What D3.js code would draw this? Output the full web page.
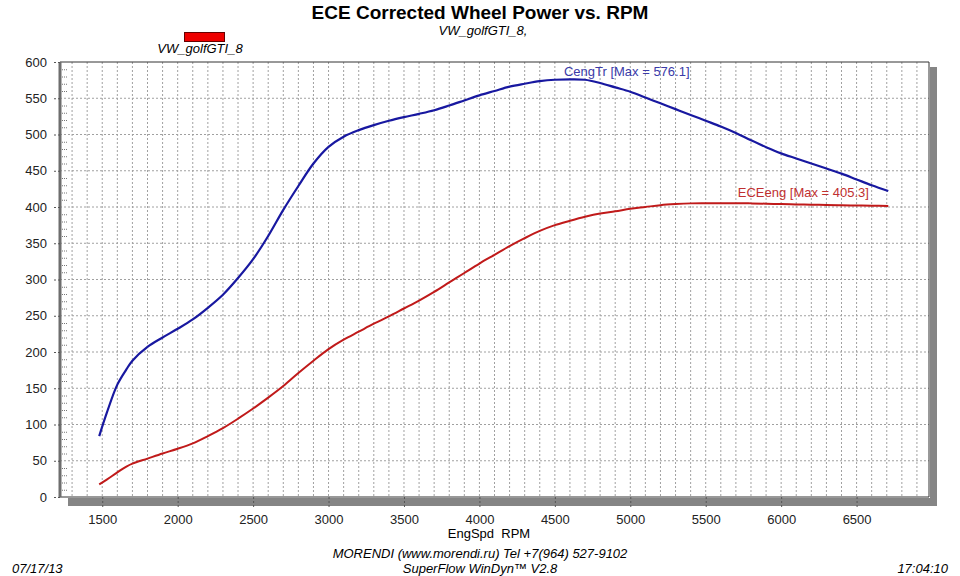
<!DOCTYPE html>
<html>
<head>
<meta charset="utf-8">
<script src="https://cdn.jsdelivr.net/npm/d3@7"></script>
<style>
  body { margin: 0; background: #fff; }
  text { font-family: "Liberation Sans", Arial, sans-serif; }
</style>
</head>
<body>
<div id="graph-area"></div>
<script>
// engine speed samples (rpm), shared by both curves
const RPM = [1480, 1530, 1600, 1660, 1700, 1800, 1900, 2000, 2100, 2200, 2300, 2400, 2500, 2600,
  2700, 2800, 2900, 3000, 3100, 3200, 3300, 3400, 3500, 3600, 3700, 3800, 3900, 4000, 4100,
  4200, 4300, 4400, 4500, 4600, 4700, 4800, 4900, 5000, 5100, 5200, 5300, 5400, 5500, 5600,
  5700, 5800, 5900, 6000, 6100, 6200, 6300, 6400, 6500, 6600, 6710]
const CENG_TR = [84, 116, 155, 176, 188, 207, 220, 232, 245, 261, 279, 302, 328, 360,
  396, 429, 460, 483, 497, 506, 513, 519, 524, 528.5, 533.5, 540, 547, 554, 560,
  566, 570, 573.5, 575.5, 576.1, 575.5, 571, 565, 559, 551, 543, 535, 527, 519, 511,
  502, 492, 482.5, 474, 467, 460, 453, 446, 438, 430, 422]
const ECE_ENG = [17.4, 24, 34, 42, 46, 53, 60, 66.5, 74, 84, 95, 108, 122, 137,
  153, 171, 188, 204, 217, 228, 239, 249, 260, 271, 283, 296, 309, 322, 334,
  346, 357, 367, 375, 381, 386.5, 391, 394, 397.5, 400, 402.5, 404, 405, 405.2, 405.3,
  405.3, 405, 404.6, 404, 403.6, 403.2, 402.8, 402.4, 402, 401.8, 401.5]
const X_TICKS = [1500, 2000, 2500, 3000, 3500, 4000, 4500, 5000, 5500, 6000, 6500]
const Y_TICKS = [0, 50, 100, 150, 200, 250, 300, 350, 400, 450, 500, 550, 600]
const X_DOMAIN = [1220, 6980]
const Y_DOMAIN = [0, 600]

const W = 960, H = 576
const plot = { left: 60, right: 929, top: 62, bottom: 497 }

const svg = d3.select('#graph-area').append('svg')
  .attr('width', W).attr('height', H)

const xScale = d3.scaleLinear().domain(X_DOMAIN).range([plot.left, plot.right])
const yScale = d3.scaleLinear().domain(Y_DOMAIN).range([plot.bottom, plot.top])

// drop shadow of the plot frame
svg.append('rect').attr('x', plot.right + 1).attr('y', plot.top + 5)
  .attr('width', 7).attr('height', plot.bottom - plot.top + 4).attr('fill', '#858585')
svg.append('rect').attr('x', plot.left + 8).attr('y', plot.bottom + 1)
  .attr('width', plot.right - plot.left).attr('height', 8).attr('fill', '#858585')

svg.append('rect').attr('x', plot.left).attr('y', plot.top)
  .attr('width', plot.right - plot.left).attr('height', plot.bottom - plot.top)
  .attr('fill', '#fff')

// grid
const grid = svg.append('g').attr('stroke', '#a0a0a0').attr('stroke-width', 1)
  .attr('stroke-dasharray', '2,2')
grid.selectAll('.vg').data(d3.range(1300, 7000, 100)).enter().append('line')
  .attr('x1', d => xScale(d)).attr('x2', d => xScale(d))
  .attr('y1', plot.top).attr('y2', plot.bottom)
grid.selectAll('.hg').data(Y_TICKS.slice(1, -1)).enter().append('line')
  .attr('x1', plot.left).attr('x2', plot.right)
  .attr('y1', d => yScale(d)).attr('y2', d => yScale(d))

// minor ticks on the y axis every 10
svg.append('g').attr('stroke', '#777').attr('stroke-dasharray', '1,1')
  .selectAll('line').data(d3.range(10, 600, 10).filter(d => d % 50)).enter().append('line')
  .attr('x1', plot.left + 2).attr('x2', plot.left + 8)
  .attr('y1', d => yScale(d) + 0.5).attr('y2', d => yScale(d) + 0.5)

// frame
svg.append('path')
  .attr('d', `M${plot.left},${plot.top}H${plot.right}V${plot.bottom}H${plot.left}`)
  .attr('fill', 'none').attr('stroke', '#333').attr('stroke-width', 1)
svg.append('line').attr('x1', plot.left).attr('x2', plot.left)
  .attr('y1', plot.top).attr('y2', plot.bottom)
  .attr('stroke', '#6e6e6e').attr('stroke-width', 3)

// axes
const yAxis = svg.append('g').attr('transform', `translate(${plot.left},0)`)
  .call(d3.axisLeft(yScale).tickValues(Y_TICKS).tickSize(8).tickPadding(5))
const xAxis = svg.append('g').attr('transform', `translate(0,${plot.bottom})`)
  .call(d3.axisBottom(xScale).tickValues(X_TICKS).tickFormat(d3.format('d'))
    .tickSize(11).tickPadding(7))
;[xAxis, yAxis].forEach(a => {
  a.select('.domain').remove()
  a.selectAll('.tick line').attr('stroke', '#555').attr('stroke-dasharray', '2,2')
  a.selectAll('.tick text').attr('fill', '#222').style('font-size', '13px')
    .style('font-family', '"Liberation Sans", Arial, sans-serif')
})

// curves
const line = yVals => d3.line()
  .x((d, i) => xScale(RPM[i]))
  .y((d, i) => yScale(yVals[i]))
  .curve(d3.curveCatmullRom.alpha(0.5))(yVals)

svg.append('path').attr('d', line(ECE_ENG))
  .attr('fill', 'none').attr('stroke', '#c01a1a').attr('stroke-width', 2)
svg.append('path').attr('d', line(CENG_TR))
  .attr('fill', 'none').attr('stroke', '#1818a0').attr('stroke-width', 2.2)

// max labels
const peakIdx = arr => arr.indexOf(d3.max(arr))
svg.append('text').attr('x', xScale(RPM[peakIdx(CENG_TR)]) - 6)
  .attr('y', yScale(d3.max(CENG_TR)) - 3)
  .attr('fill', '#3a3aa8').style('font-size', '13px')
  .text(`CengTr [Max = ${d3.max(CENG_TR)}]`)
svg.append('text').attr('x', xScale(RPM[peakIdx(ECE_ENG)]) + 17)
  .attr('y', yScale(d3.max(ECE_ENG)) - 6)
  .attr('fill', '#c03030').style('font-size', '13px')
  .text(`ECEeng [Max = ${d3.max(ECE_ENG)}]`)

// titles and legend
svg.append('text').attr('x', 480).attr('y', 19).attr('text-anchor', 'middle')
  .style('font-size', '19px').style('font-weight', 'bold')
  .text('ECE Corrected Wheel Power vs. RPM')
svg.append('text').attr('x', 483).attr('y', 35).attr('text-anchor', 'middle')
  .style('font-size', '13px').style('font-style', 'italic')
  .text('VW_golfGTI_8,')
svg.append('rect').attr('x', 184.5).attr('y', 32.5).attr('width', 40).attr('height', 9)
  .attr('fill', '#ee0000').attr('stroke', '#600')
svg.append('text').attr('x', 200).attr('y', 53).attr('text-anchor', 'middle')
  .style('font-size', '13px').style('font-style', 'italic')
  .text('VW_golfGTI_8')

// footer
svg.append('text').attr('x', 489).attr('y', 538).attr('text-anchor', 'middle')
  .style('font-size', '13px').attr('xml:space', 'preserve')
  .text('EngSpd  RPM')
svg.append('text').attr('x', 480).attr('y', 558).attr('text-anchor', 'middle')
  .style('font-size', '13px').style('font-style', 'italic')
  .text('MORENDI (www.morendi.ru) Tel +7(964) 527-9102')
svg.append('text').attr('x', 480).attr('y', 573).attr('text-anchor', 'middle')
  .style('font-size', '13px').style('font-style', 'italic')
  .text('SuperFlow WinDyn™ V2.8')
svg.append('text').attr('x', 12).attr('y', 573)
  .style('font-size', '13px').style('font-style', 'italic')
  .text('07/17/13')
svg.append('text').attr('x', 948).attr('y', 573).attr('text-anchor', 'end')
  .style('font-size', '13px').style('font-style', 'italic')
  .text('17:04:10')
</script>
</body>
</html>
